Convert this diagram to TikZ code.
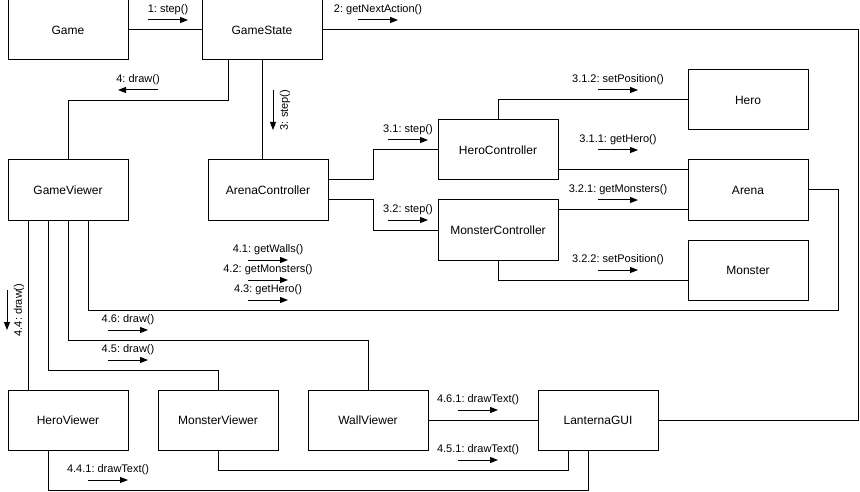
\documentclass[tikz,border=0pt]{standalone}
\usepackage{fontspec}
\setmainfont{Liberation Sans}
\frenchspacing
\usepackage{tikz}
\usetikzlibrary{arrows.meta,calc}

\tikzset{
  obj/.style={draw,line width=1pt,minimum width=120pt,minimum height=60pt,inner sep=0pt,font=\fontsize{12}{14}\selectfont},
  link/.style={line width=1pt},
  msg/.style={line width=1pt,-{Triangle[length=8pt,width=6pt]}},
  msglabel/.style={font=\fontsize{11}{13}\selectfont}
}

\begin{document}
\begin{tikzpicture}[x=1pt,y=-1pt]
\useasboundingbox (0,0) rectangle (860,492);

% objects
\node[obj] (game) at (68,30) {Game};
\node[obj] (gs) at (262,30) {GameState};
\node[obj] (gv) at (68,190) {GameViewer};
\node[obj] (ac) at (268,190) {ArenaController};
\node[obj] (hc) at (498,150) {HeroController};
\node[obj] (mc) at (498,230) {MonsterController};
\node[obj] (hero) at (748,100) {Hero};
\node[obj] (arena) at (748,190) {Arena};
\node[obj] (monster) at (748,270) {Monster};
\node[obj] (hv) at (68,420) {HeroViewer};
\node[obj] (mv) at (218,420) {MonsterViewer};
\node[obj] (wv) at (368,420) {WallViewer};
\node[obj] (gui) at (598,420) {LanternaGUI};

% links
\draw[link] (game) -- (gs);
\draw[link] (gs.east) -| ([xshift=200pt]gui.east) -- (gui.east);
\draw[link] ([xshift=-34pt]gs.south) -- ++(0,40) -| (gv.north);
\draw[link] (gs.south) -- (gs.south |- ac.north);
\draw[link] ([yshift=10pt]ac.east) -- ++(45,0) |- (hc.west);
\draw[link] ([yshift=-10pt]ac.east) -- ++(45,0) |- (mc.west);
\draw[link] (hc.north) |- (hero.west);
\draw[link] ([yshift=-20pt]hc.east) -- ([yshift=20pt]arena.west);
\draw[link] ([yshift=20pt]mc.east) -- ([yshift=-20pt]arena.west);
\draw[link] (mc.south) |- ([yshift=-10pt]monster.west);
\draw[link] (arena.east) -| ++(30,120) -| ([xshift=20pt]gv.south);
\draw[link] ([xshift=-40pt]gv.south) -- ([xshift=-40pt]hv.north);
\draw[link] ([xshift=-20pt]gv.south) -- ++(0,150) -| (mv.north);
\draw[link] (gv.south) -- ++(0,120) -| (wv.north);
\draw[link] (wv) -- (gui);
\draw[link] (mv.south) -- ++(0,20) -| ([xshift=-30pt]gui.south);
\draw[link] ([xshift=-20pt]hv.south) -- ++(0,40) -| ([xshift=-10pt]gui.south);

% messages
\foreach \x/\y/\t in {148/20/1: step(), 358/20/2: getNextAction(),
    388/140/3.1: step(), 388/220/3.2: step(),
    598/90/3.1.2: setPosition(), 598/150/3.1.1: getHero(),
    598/200/3.2.1: getMonsters(), 598/270/3.2.2: setPosition(),
    248/260/4.1: getWalls(), 248/280/4.2: getMonsters(), 248/300/4.3: getHero(),
    108/330/4.6: draw(), 108/360/4.5: draw(), 88/480/4.4.1: drawText(),
    458/410/4.6.1: drawText(), 458/460/4.5.1: drawText()} {
  \draw[msg] (\x,\y) -- ++(40,0) node[midway,above=1pt,msglabel] {\t};
}
\draw[msg] (158,90) -- ++(-40,0) node[midway,above=1pt,msglabel] {4: draw()};
\draw[msg] (273,90) -- ++(0,40) node[midway,xshift=12pt,rotate=90,msglabel] {3: step()};
\draw[msg] (7,290) -- ++(0,40) node[midway,xshift=12pt,rotate=90,msglabel] {4.4: draw()};
\end{tikzpicture}
\end{document}
